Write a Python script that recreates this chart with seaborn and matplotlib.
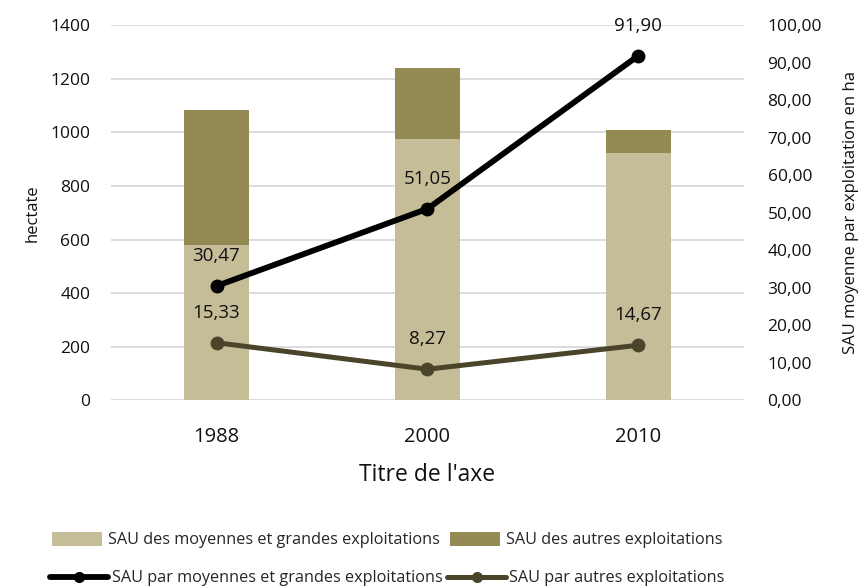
import numpy as np
import pandas as pd
import matplotlib
matplotlib.use("Agg")
import matplotlib.pyplot as plt
from matplotlib.ticker import FuncFormatter, MultipleLocator
from matplotlib.patches import Patch
from matplotlib.lines import Line2D
import seaborn as sns

# Data
years = ["1988", "2000", "2010"]
sau_moy_grandes = [581, 974, 922]      # hectares, medium & large farms
sau_autres = [504, 265, 88]            # hectares, other farms
moy_par_grandes = [30.47, 51.05, 91.90]  # ha per medium & large farm
moy_par_autres = [15.33, 8.27, 14.67]    # ha per other farm

light = "#C4BD97"
dark = "#948A54"
olive = "#4A452A"
grid = "#D9D9D9"

sns.set_theme(style="white")
plt.rcParams["font.family"] = ["Open Sans", "DejaVu Sans"]

df = pd.DataFrame({
    "annee": years,
    "grandes": sau_moy_grandes,
    "total": np.array(sau_moy_grandes) + np.array(sau_autres),
    "l1": moy_par_grandes,
    "l2": moy_par_autres,
})
df["pos"] = np.arange(len(years))

fig = plt.figure(figsize=(8.61, 5.86), dpi=100)
ax = fig.add_axes([0.129, 0.317, 0.735, 0.640])

sns.barplot(data=df, x="annee", y="total", color=dark, width=0.31,
            saturation=1, linewidth=0, edgecolor="none", ax=ax, zorder=2)
sns.barplot(data=df, x="annee", y="grandes", color=light, width=0.31,
            saturation=1, linewidth=0, edgecolor="none", ax=ax, zorder=3)

ax.set_ylim(0, 1400)
ax.set_xlim(-0.5, 2.5)
ax.yaxis.set_major_locator(MultipleLocator(200))
ax.grid(axis="y", color=grid, linewidth=1.3, zorder=0)
ax.set_axisbelow(True)
for s in ax.spines.values():
    s.set_visible(False)
ax.tick_params(axis="y", length=0, pad=15, labelsize=12.5, colors="#111111")
ax.tick_params(axis="x", length=0, pad=19, labelsize=14.5, colors="#111111")
ax.set_ylabel("hectate", fontsize=12, color="#111111", labelpad=7)
ax.set_xlabel("Titre de l'axe", fontsize=16.5, color="#111111", labelpad=12)

ax2 = ax.twinx()
sns.lineplot(data=df, x="pos", y="l1", color="black", linewidth=4.2,
             marker="o", markersize=10, markeredgewidth=0, ax=ax2, zorder=5)
sns.lineplot(data=df, x="pos", y="l2", color=olive, linewidth=3.6,
             marker="o", markersize=10, markeredgewidth=0, ax=ax2, zorder=4)
ax2.set_ylim(0, 100)
ax2.set_xlim(-0.5, 2.5)
ax2.yaxis.set_major_locator(MultipleLocator(10))
ax2.yaxis.set_major_formatter(FuncFormatter(lambda v, p: f"{v:.2f}".replace(".", ",")))
ax2.tick_params(axis="y", length=0, pad=17, labelsize=12.5, colors="#111111")
ax2.grid(False)
for s in ax2.spines.values():
    s.set_visible(False)
ax2.set_ylabel("SAU moyenne par exploitation en ha", fontsize=12,
               color="#111111", labelpad=15)
ax2.set_xlabel("")

for series in (moy_par_grandes, moy_par_autres):
    for i, v in enumerate(series):
        ax2.annotate(f"{v:.2f}".replace(".", ","), (i, v), xytext=(0, 15),
                     textcoords="offset points", ha="center", va="bottom",
                     fontsize=13.5, color="#111111", zorder=6)

h_bars = [Patch(facecolor=light, edgecolor="none"),
          Patch(facecolor=dark, edgecolor="none")]
l_bars = ["SAU des moyennes et grandes exploitations", "SAU des autres exploitations"]
h_lines = [Line2D([], [], color="black", linewidth=4.2, marker="o", markersize=7),
           Line2D([], [], color=olive, linewidth=3.6, marker="o", markersize=7)]
l_lines = ["SAU par moyennes et grandes exploitations", "SAU par autres exploitations"]

leg1 = fig.legend(h_bars, l_bars, loc="center left", bbox_to_anchor=(0.043, 0.078),
                  ncol=2, frameon=False, fontsize=11.7, handlelength=3.1,
                  handleheight=0.9, handletextpad=0.37, columnspacing=0.6)
leg2 = fig.legend(h_lines, l_lines, loc="center left", bbox_to_anchor=(0.041, 0.013),
                  ncol=2, frameon=False, fontsize=11.7, handlelength=3.6,
                  handletextpad=0.2, columnspacing=0.3)

fig.savefig("out.png", dpi=100)
